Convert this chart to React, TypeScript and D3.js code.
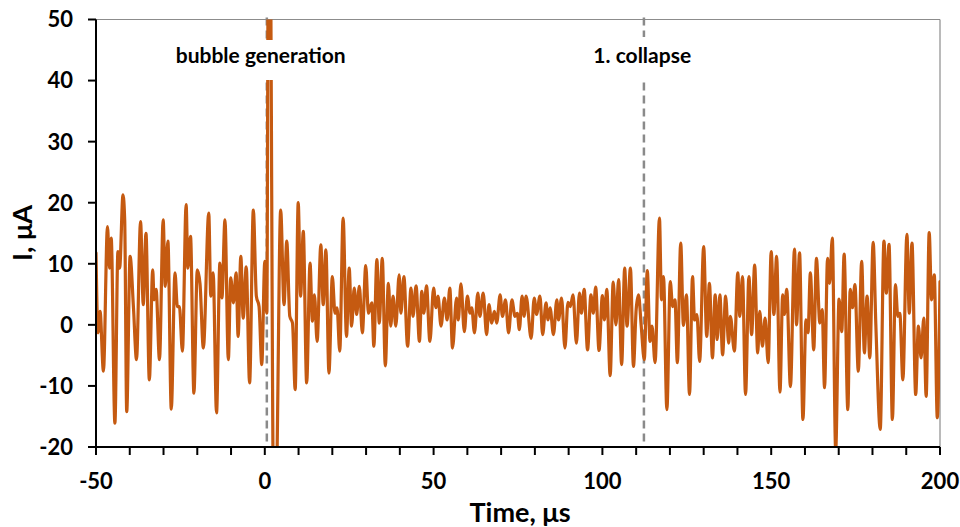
import React from "react";
import * as d3 from "d3";

const times: number[] = [
  -50.0, -49.4, -48.8, -47.8, -46.6, -46.0, -45.5, -44.4, -43.5, -43.0, -42.0, -41.5, -40.9, -39.9, -38.9, -38.0,
  -36.8, -36.0, -35.2, -34.2, -33.2, -32.8, -32.2, -31.2, -30.1, -29.5, -28.7, -27.7, -26.6, -25.9, -25.3, -24.4,
  -23.3, -22.8, -22.0, -21.0, -20.0, -19.2, -18.2, -16.6, -16.0, -15.3, -14.3, -13.3, -12.7, -11.8, -10.8, -10.1,
  -9.3, -8.5, -7.9, -7.1, -6.4, -5.5, -4.5, -3.4, -2.5, -1.7, -0.9, 0.0, 0.6, 1.1, 1.5, 2.6, 3.3, 4.7, 5.7, 6.5,
  7.4, 8.2, 9.0, 9.9, 10.6, 11.4, 12.4, 13.4, 14.1, 14.7, 15.5, 16.6, 17.3, 18.1, 19.0, 20.0, 20.8, 21.4, 22.2,
  23.2, 24.2, 25.0, 25.7, 26.5, 27.2, 28.0, 28.9, 29.9, 30.7, 31.7, 32.3, 33.2, 33.9, 34.8, 35.7, 36.6, 37.3, 38.0,
  38.8, 39.8, 40.3, 41.2, 42.3, 43.3, 43.9, 44.8, 45.8, 46.5, 47.1, 47.9, 48.9, 50.0, 50.7, 51.3, 52.2, 53.2, 54.0,
  54.8, 55.6, 56.8, 57.3, 58.1, 59.1, 60.0, 60.8, 61.3, 62.1, 63.1, 63.7, 64.7, 65.7, 66.4, 67.2, 68.0, 68.7, 69.7,
  70.4, 71.3, 72.2, 73.2, 74.1, 74.8, 75.4, 76.2, 76.8, 77.4, 78.9, 79.8, 80.5, 81.5, 82.3, 83.3, 83.9, 84.5, 85.5,
  86.5, 87.0, 87.9, 88.9, 89.8, 90.5, 91.3, 92.3, 93.2, 93.8, 94.6, 95.6, 96.6, 97.3, 98.0, 99.0, 100.0, 100.6,
  101.3, 102.3, 103.2, 104.0, 104.8, 105.7, 106.6, 107.3, 108.3, 109.2, 110.0, 110.7, 111.5, 112.4, 113.3, 114.1,
  114.7, 115.6, 116.9, 117.5, 118.1, 119.1, 120.1, 120.8, 121.5, 122.2, 123.2, 124.0, 124.9, 125.8, 126.7, 127.3,
  128.0, 128.8, 130.0, 130.9, 131.7, 132.6, 133.4, 134.0, 134.8, 135.6, 136.5, 137.4, 137.9, 139.1, 140.1, 140.7,
  141.5, 142.4, 143.4, 144.2, 145.1, 146.0, 146.6, 147.4, 148.2, 149.1, 150.0, 150.8, 151.6, 152.6, 153.4, 153.9,
  154.6, 155.7, 156.9, 157.5, 158.4, 159.4, 160.3, 160.9, 161.6, 162.6, 163.4, 164.4, 165.1, 165.8, 166.7, 167.3,
  168.1, 169.1, 170.1, 170.9, 171.6, 172.7, 173.4, 174.1, 174.8, 175.8, 176.8, 177.6, 178.4, 179.2, 180.2, 181.0,
  182.3, 183.4, 184.1, 184.9, 185.9, 186.8, 187.5, 188.1, 189.0, 190.2, 190.9, 191.7, 192.8, 193.6, 194.4, 195.2,
  195.9, 196.8, 197.5, 198.3, 199.2, 200.0,
];

const currents: number[] = [
  11.8, -1.3, 2.2, -7.6, 16.1, 9.3, 14.2, -16.1, 12.0, 9.3, 21.3, 17.2, -14.2, 11.2, 2.8, -5.7,
  16.9, 3.3, 15.0, -9.0, 9.0, 4.1, 5.8, -5.7, 17.2, 6.3, 13.7, -13.8, 8.5, 3.0, 3.0, -4.3,
  19.7, 9.3, 14.5, -11.2, 9.0, 6.8, -3.8, 18.3, 4.7, 8.5, -14.4, 10.1, 4.4, 17.2, -5.7, 7.7,
  3.6, 8.5, -1.9, 11.2, 1.1, 9.5, -9.5, 18.8, 4.7, 3.0, -6.5, 10.4, 1.9, 70, 70, -28, -28, 18.8, 3.3, 13.7,
  1.4, 0.3, -10.6, 20.0, 4.7, 15.3, -9.5, 10.1, 0.6, 4.9, -2.7, 13.1, 3.3, 12.3, -7.9, 7.9, 1.9, 2.8, -4.3,
  17.5, -1.9, 9.3, -0.2, 6.0, 1.7, 6.3, -1.3, 9.7, 1.9, 3.6, -3.5, 10.7, 0.3, 10.9, -6.7, 6.8, -0.2, 4.7,
  -0.2, 8.2, 1.9, 7.9, -3.5, 6.0, 1.4, 6.4, -2.7, 5.5, 1.9, 6.4, -2.7, 6.0, 2.8, 4.7, -0.2, 4.4, 0.8,
  6.0, -3.8, 4.4, 0.8, 6.7, -1.1, 4.7, 1.9, 2.8, -1.3, 5.2, 1.4, 5.2, -1.6, 3.3, 0.3, 2.2, 0.3, 4.9,
  1.4, 4.1, -1.3, 4.1, 1.4, 1.9, -0.8, 4.7, 1.4, 4.7, -2.2, 4.4, 1.7, 4.7, -1.6, 3.6, 0.8, 2.8, -1.6,
  4.1, 0.8, 4.4, -3.8, 3.7, 3.0, 4.9, -3.0, 5.2, 1.9, 5.8, -4.1, 4.9, 1.9, 6.2, -4.2, 4.8, 0.8,
  5.8, -8.3, 7.0, 0.0, 7.4, -6.5, 9.3, -0.2, 9.3, -6.8, 2.5, 4.9, -0.2, -5.7, 8.9, -2.7,
  -0.2, -6.2, 17.5, 4.1, 7.9, -13.9, 7.1, 3.0, 4.1, -6.2, 13.4, -0.1, 4.9, -11.4, 7.9, 0.8,
  1.7, -6.0, 12.8, -1.9, 6.8, -5.4, 4.9, -2.4, 4.9, -4.9, 4.7, -3.0, 1.4, -4.3, 8.5, 1.4,
  7.9, -11.4, 7.9, -1.6, 9.8, -4.6, 2.2, -3.5, 1.1, -6.2, 12.0, 1.7, 11.2, -11.0, 4.9, 1.7,
  5.8, -10.1, 12.4, 0.0, 11.8, -15.5, 0.8, -1.3, 8.5, -4.1, 10.9, 0.3, 2.5, -10.3, 10.9, 6.8,
  14.2, -20.5, 4.2, -1.1, 11.6, -13.9, 5.8, 2.8, 6.6, -7.6, 10.4, -4.6, 4.7, -5.4, 13.5, 0.0,
  -17.1, 13.7, 5.2, 13.2, -15.5, 6.6, 1.4, 1.9, -9.0, 14.8, 1.9, 13.4, -11.4, -0.2, -5.4, 1.1,
  -11.7, 15.1, 4.1, 8.2, -15.2, 7.1,
];

const xTicksMajor: number[] = [-50, 0, 50, 100, 150, 200];
const xTicksMinor: number[] = d3.range(-50, 201, 10);
const yTicks: number[] = [-20, -10, 0, 10, 20, 30, 40, 50];

const eventTimes: number[] = [0.6, 112.3];
const eventLabels: string[] = ["bubble generation", "1. collapse"];
const labelCenters: number[] = [-1.2, 111.8];

const W = 960;
const H = 527;
const M = { left: 96, right: 20, top: 19.5, bottom: 80 };
const FONT = "Lato, 'Open Sans', sans-serif";
const LINE_COLOR = "#C55A11";

export default function App() {
  const x = d3.scaleLinear().domain([-50, 200]).range([M.left, W - M.right]);
  const y = d3.scaleLinear().domain([-20, 50]).range([H - M.bottom, M.top]);
  const data = times.map((t, i) => [t, currents[i]] as [number, number]);
  const line = d3
    .line<[number, number]>()
    .x((d) => x(d[0]))
    .y((d) => y(d[1]))
    .curve(d3.curveMonotoneX);
  const x0 = x(-50);
  const x1 = x(200);
  const yTop = y(50);
  const yBot = y(-20);
  const boxW = [186, 118];

  return (
    <svg
      width={W}
      height={H}
      style={{ position: "absolute", left: 0, top: 0, background: "#fff" }}
      fontFamily={FONT}
    >
      <defs>
        <clipPath id="plotClip">
          <rect x={x0} y={yTop} width={x1 - x0} height={yBot - yTop} />
        </clipPath>
      </defs>
      <line x1={x0} x2={x1} y1={yTop} y2={yTop} stroke="#8c8c8c" strokeWidth={1.2} />
      <line x1={x1} x2={x1} y1={yTop} y2={yBot} stroke="#8c8c8c" strokeWidth={1.2} />

      {eventTimes.map((t, i) => (
        <line
          key={"ev" + i}
          x1={x(t)}
          x2={x(t)}
          y1={yTop - 2}
          y2={yBot}
          stroke="#8a8a8a"
          strokeWidth={2.5}
          strokeDasharray="8,5"
        />
      ))}

      <g clipPath="url(#plotClip)">
        <path
          d={line(data) || ""}
          fill="none"
          stroke={LINE_COLOR}
          strokeWidth={3.2}
          strokeLinejoin="round"
          strokeLinecap="round"
        />
      </g>

      {eventLabels.map((lab, i) => (
        <g key={"lab" + i}>
          <rect
            x={x(labelCenters[i]) - boxW[i] / 2}
            y={i === 0 ? 40 : 37}
            width={boxW[i]}
            height={i === 0 ? 40 : 41}
            fill="#fff"
          />
          <text
            x={x(labelCenters[i])}
            y={63}
            textAnchor="middle"
            fontWeight="bold"
            fontSize={21}
            fill="#000"
          >
            {lab}
          </text>
        </g>
      ))}

      <line x1={x0} x2={x0} y1={yTop} y2={yBot} stroke="#000" strokeWidth={2} />
      <line x1={x0 - 8} x2={x1} y1={yBot} y2={yBot} stroke="#000" strokeWidth={2} />
      {yTicks.map((v) => (
        <g key={"yt" + v}>
          <line x1={x0 - 8} x2={x0} y1={y(v)} y2={y(v)} stroke="#000" strokeWidth={2} />
          <text
            x={73}
            y={y(v)}
            dy="0.36em"
            textAnchor="end"
            fontWeight="bold"
            fontSize={22}
            fill="#000"
          >
            {v}
          </text>
        </g>
      ))}
      {xTicksMinor.map((v) => (
        <line key={"xt" + v} x1={x(v)} x2={x(v)} y1={yBot} y2={yBot + 8} stroke="#000" strokeWidth={2} />
      ))}
      {xTicksMajor.map((v) => (
        <text
          key={"xl" + v}
          x={x(v)}
          y={489}
          textAnchor="middle"
          fontWeight="bold"
          fontSize={22}
          fill="#000"
        >
          {v}
        </text>
      ))}

      <text x={520} y={522} textAnchor="middle" fontWeight="bold" fontSize={27} fill="#000">
        Time, μs
      </text>
      <text
        transform={`translate(32, 233) rotate(-90)`}
        textAnchor="middle"
        fontWeight="bold"
        fontSize={27}
        fill="#000"
      >
        I, μA
      </text>
    </svg>
  );
}
